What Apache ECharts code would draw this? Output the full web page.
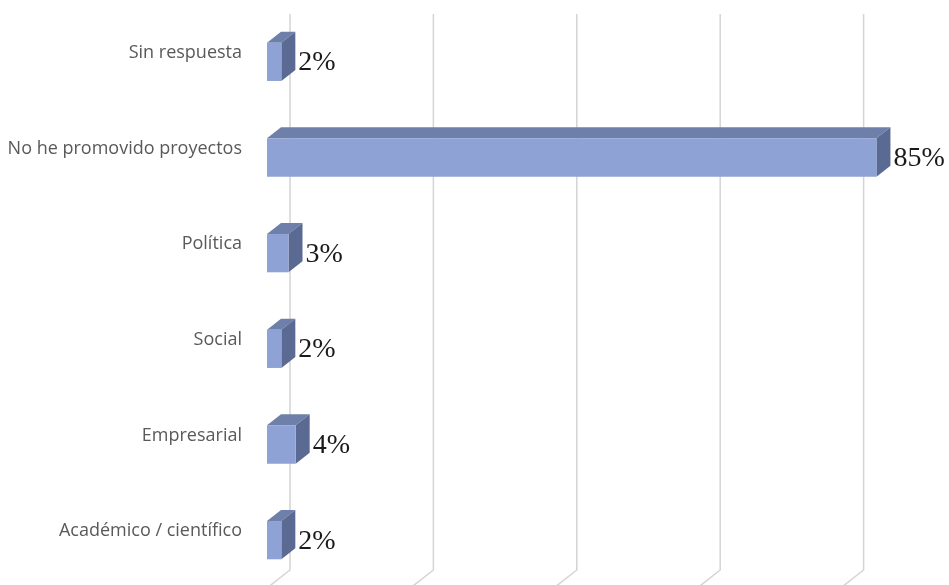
<!DOCTYPE html>
<html>
<head>
<meta charset="utf-8">
<script src="https://cdn.jsdelivr.net/npm/echarts@6/dist/echarts.min.js"></script>
<style>html,body{margin:0;padding:0;background:#fff;}#c{width:949px;height:585px;}</style>
</head>
<body>
<div id="c"></div>
<script>
var categories = ["Sin respuesta", "No he promovido proyectos", "Política", "Social", "Empresarial", "Académico / científico"];
var values = [2, 85, 3, 2, 4, 2];
var labels = ["2%", "85%", "3%", "2%", "4%", "2%"];
var gridTicks = [0, 20, 40, 60, 80, 100];

var chart = echarts.init(document.getElementById('c'), null, {renderer: 'canvas'});
var DX = 14, DY = 11;      // bar depth
var WDX = 23, WDY = 18;    // back wall offset

var barData = values.map(function (v, i) { return [v, i, labels[i]]; });

chart.setOption({
  animation: false,
  backgroundColor: '#ffffff',
  grid: {left: 267, width: 717, top: 14, height: 574, containLabel: false, outerBoundsMode: 'none'},
  xAxis: {type: 'value', min: 0, max: 100, show: false},
  yAxis: {
    type: 'category', data: categories, inverse: true,
    axisLine: {show: false}, axisTick: {show: false}, splitLine: {show: false},
    axisLabel: {show: false}
  },
  series: [
    {
      type: 'custom', z: 1, silent: true,
      data: gridTicks.map(function (t) { return [t]; }),
      encode: {x: 0},
      renderItem: function (params, api) {
        var x = api.coord([api.value(0), 0])[0] + WDX;
        var top = 14;
        var bottom = 570;
        return {
          type: 'polyline',
          shape: {points: [[x, top], [x, bottom], [x - WDX, bottom + WDY]]},
          style: {stroke: '#d4d4d4', lineWidth: 1.5, fill: null}
        };
      }
    },
    {
      type: 'custom', z: 2,
      data: barData,
      encode: {x: 0, y: 1},
      renderItem: function (params, api) {
        var v = api.value(0), c = api.value(1);
        var p1 = api.coord([v, c]);
        var p0 = api.coord([0, c]);
        var h = api.size([0, 1])[1] * 0.4;
        var x0 = p0[0], x1 = p1[0], yc = p1[1];
        var yT = yc - h / 2, yB = yc + h / 2;
        return {
          type: 'group',
          children: [
            {type: 'polygon', shape: {points: [[x0, yT], [x0 + DX, yT - DY], [x1 + DX, yT - DY], [x1, yT]]},
              style: {fill: '#6e80a9'}},
            {type: 'polygon', shape: {points: [[x1, yT], [x1 + DX, yT - DY], [x1 + DX, yB - DY], [x1, yB]]},
              style: {fill: '#5b6a92'}},
            {type: 'rect', shape: {x: x0, y: yT, width: x1 - x0, height: h},
              style: {fill: '#8fa2d5'}},
            {type: 'text', x: x1 + DX + 3, y: yc + 1,
              style: {text: api.value(2), fill: '#1a1a1a', fontFamily: 'Liberation Serif', fontSize: 28,
                align: 'left', verticalAlign: 'middle'}},
            {type: 'text', x: 242, y: yc - 9,
              style: {text: categories[c], fill: '#595959', fontFamily: 'Open Sans', fontSize: 18,
                align: 'right', verticalAlign: 'middle'}}
          ]
        };
      }
    }
  ]
});
</script>
</body>
</html>
